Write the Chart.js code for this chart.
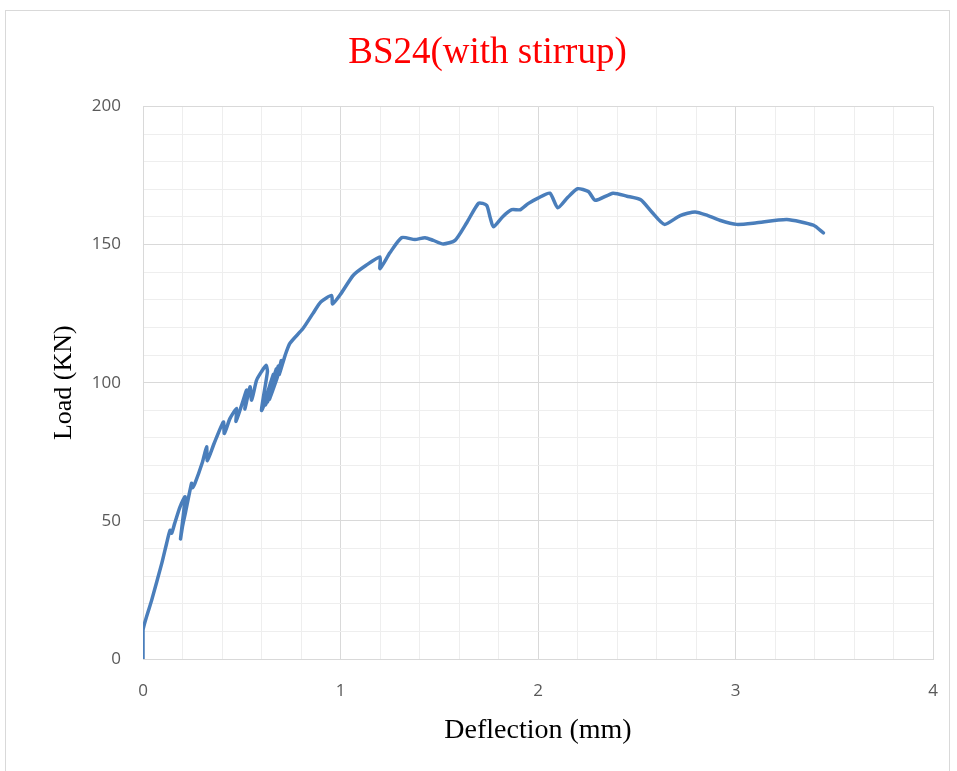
<!DOCTYPE html>
<html>
<head>
<meta charset="utf-8">
<script src="https://cdn.jsdelivr.net/npm/chart.js@4.4.1/dist/chart.umd.min.js"></script>
<style>
  html, body { margin: 0; padding: 0; background: #fff; overflow: hidden; }
  #wrap { position: relative; width: 957px; height: 771px; }
  #frame { position: absolute; left: 5px; top: 10px; width: 943px; height: 800px; border: 1px solid #d9d9d9; }
  #loadChart { position: absolute; left: 0; top: 0; }
</style>
</head>
<body>
<div id="wrap">
  <div id="frame"></div>
  <canvas id="loadChart" width="957" height="771"></canvas>
</div>
<script>
// Deflection (mm) / Load (KN)
const deflection = [
  0, 0, 0.044, 0.095, 0.12, 0.137, 0.145, 0.16, 0.187, 0.213,
  0.19, 0.2, 0.215, 0.246, 0.25, 0.263, 0.30, 0.322, 0.326, 0.36,
  0.407, 0.412, 0.44, 0.474, 0.471, 0.50, 0.525, 0.516, 0.542, 0.55,
  0.575, 0.60, 0.623, 0.63, 0.60, 0.64, 0.66, 0.61, 0.65, 0.675,
  0.62, 0.66, 0.685, 0.63, 0.67, 0.70, 0.64, 0.68, 0.70, 0.69,
  0.72, 0.744, 0.81, 0.86, 0.90, 0.955,
  0.96, 1.0, 1.065, 1.13, 1.2, 1.2, 1.25, 1.31, 1.377, 1.428,
  1.47, 1.52, 1.58, 1.64, 1.70, 1.74, 1.757, 1.774, 1.82, 1.867,
  1.91, 1.95, 2.0, 2.06, 2.10, 2.15, 2.20, 2.255, 2.29, 2.38,
  2.45, 2.52, 2.576, 2.64, 2.72, 2.795, 2.86, 2.92, 3.006, 3.1,
  3.26, 3.394, 3.445
];
const load = [
  0, 10.5, 21.3, 34.6, 42, 46.6, 45.5, 49, 55, 58.7,
  43.5, 48, 53, 63.6, 62, 63.6, 71, 76.8, 71.8, 78,
  85.8, 81.6, 87, 90.7, 86, 92, 97.3, 90.5, 98.5, 93.7,
  100.9, 104, 106.3, 104, 90, 97, 103, 91.5, 98, 105,
  92, 99, 106, 93, 101, 107, 94, 102, 108, 103,
  110, 114.3, 119.6, 125, 129.2, 131.6,
  128.5, 132, 138.9, 142.5, 145.5, 141.3, 147, 152.5, 151.8, 152.5,
  151.5, 150.2, 151.5, 158, 165, 164.2, 160, 156.4, 160, 162.6,
  162.6, 164.8, 166.8, 168.6, 163.3, 167, 170.2, 169.2, 166, 168.6,
  167.5, 166.2, 161.8, 157.3, 160.5, 161.8, 160.5, 158.8, 157.3, 157.8,
  159.1, 157, 154.2
];
const xLabels = [0, 1, 2, 3, 4];
const yLabels = [0, 50, 100, 150, 200];

const points = deflection.map((d, i) => ({ x: d, y: load[i] }));

const isMajor = (v, list) => list.some(t => Math.abs(t - v) < 1e-6);

new Chart(document.getElementById('loadChart'), {
    type: 'scatter',
    data: {
        datasets: [{
            data: points,
            showLine: true,
            borderColor: '#4a7ebb',
            borderWidth: 3.5,
            pointRadius: 0,
            tension: 0.2,
            borderCapStyle: 'round',
            borderJoinStyle: 'round'
        }]
    },
    options: {
        responsive: false,
        animation: false,
        layout: {
            padding: { left: 42, right: 24, top: 0, bottom: 0 }
        },
        plugins: {
            legend: { display: false },
            tooltip: { enabled: false },
            title: {
                display: true,
                text: 'BS24(with stirrup)',
                color: '#ff0000',
                font: { family: 'Liberation Serif', size: 37, weight: 'normal', lineHeight: 1.2 },
                padding: { top: 31, bottom: 31 }
            }
        },
        scales: {
            x: {
                type: 'linear',
                min: 0,
                max: 4,
                afterFit: (scale) => {
                    scale.height = 112;
                    scale.paddingLeft = 0;
                    scale.paddingRight = 0;
                },
                ticks: {
                    stepSize: 0.2,
                    autoSkip: false,
                    maxRotation: 0,
                    padding: 22,
                    color: '#595959',
                    font: { family: 'Open Sans', size: 17 },
                    callback: (v) => isMajor(v, xLabels) ? String(Math.round(v)) : ''
                },
                grid: {
                    drawTicks: false,
                    lineWidth: 1,
                    color: (ctx) => isMajor(ctx.tick.value, xLabels) ? '#d9d9d9' : '#eeeeee'
                },
                border: { color: '#d9d9d9' },
                title: {
                    display: true,
                    text: 'Deflection (mm)',
                    color: '#000',
                    font: { family: 'Liberation Serif', size: 28, lineHeight: 1.2 },
                    padding: { top: 0, bottom: 24 }
                }
            },
            y: {
                min: 0,
                max: 200,
                afterFit: (scale) => { scale.width = 101; },
                ticks: {
                    stepSize: 10,
                    autoSkip: false,
                    padding: 22,
                    color: '#595959',
                    font: { family: 'Open Sans', size: 17 },
                    callback: (v) => isMajor(v, yLabels) ? String(v) : ''
                },
                grid: {
                    drawTicks: false,
                    lineWidth: 1,
                    color: (ctx) => isMajor(ctx.tick.value, yLabels) ? '#d9d9d9' : '#eeeeee'
                },
                border: { color: '#d9d9d9' },
                title: {
                    display: true,
                    text: 'Load (KN)',
                    color: '#000',
                    font: { family: 'Liberation Serif', size: 26, lineHeight: 1.2 },
                    padding: { top: 7, bottom: 0 }
                }
            }
        }
    }
});
</script>
</body>
</html>
